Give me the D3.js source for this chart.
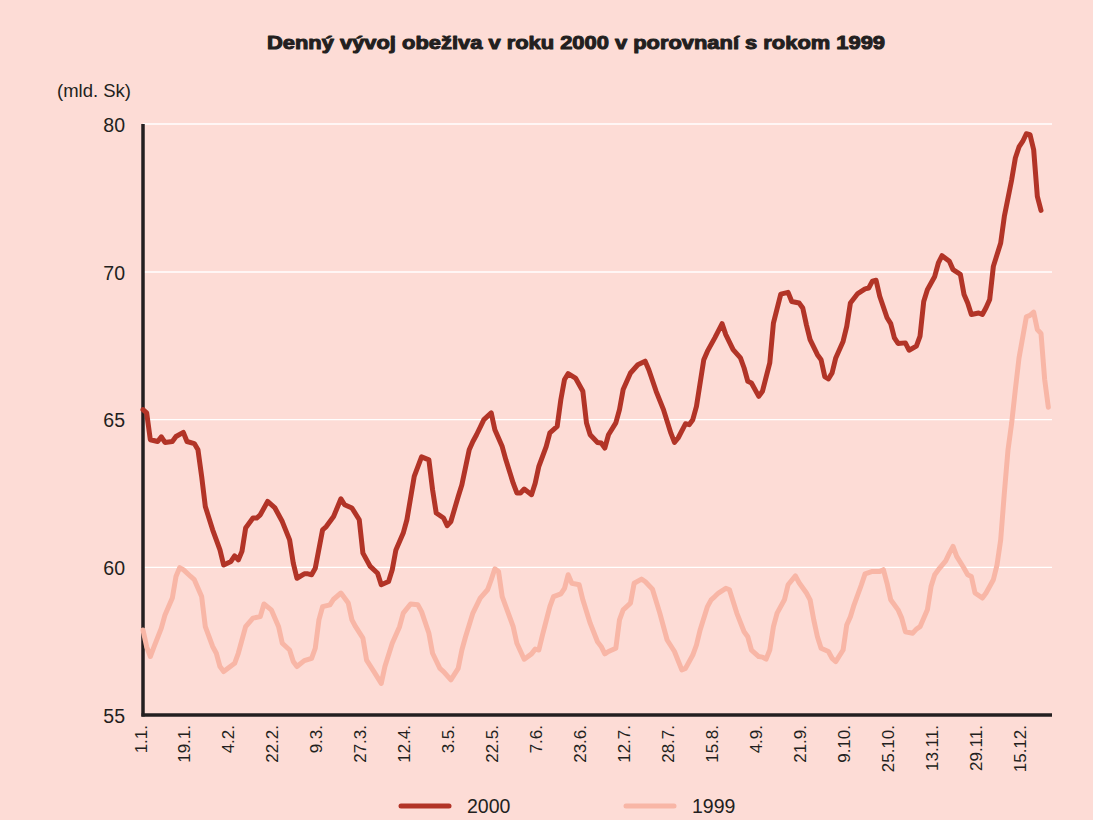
<!DOCTYPE html>
<html><head><meta charset="utf-8">
<script src="https://cdn.jsdelivr.net/npm/d3@7"></script>
<style>
html,body{margin:0;padding:0;background:#fddcd6;}
svg{display:block;}
</style></head>
<body>
<svg id="chart" width="1093" height="820"></svg>
<script>
const title = "Denný vývoj obeživa v roku 2000 v porovnaní s rokom 1999";
const unitLabel = "(mld. Sk)";
const yTickValues = [55, 60, 65, 70, 80];
const gridValues = [60, 65, 70, 80];
const tickDays = [0,12,24,36,48,60,72,84,96,108,120,132,144,156,168,180,192,204,216,228,240];
const tickLabels = ["1.1.","19.1.","4.2.","22.2.","9.3.","27.3.","12.4.","3.5.","22.5.","7.6.","23.6.","12.7.","28.7.","15.8.","4.9.","21.9.","9.10.","25.10.","13.11.","29.11.","15.12."];
const seriesNames = ["2000", "1999"];

const days2000 = [0,1,2,4,5,6,8,9,11,12,14,15,16,17,19,21,22,24,25,26,27,28,30,31,32,34,36,38,40,41,42,44,45,46,47,49,50,52,54,55,57,59,60,62,64,65,67,68,69,71,72,74,76,78,79,80,82,83,84,86,87,89,90,91,93,95,96,98,99,101,102,103,104,106,107,108,110,111,113,114,115,116,118,120,121,122,124,125,126,127,129,130,131,133,135,137,138,140,142,144,145,146,148,149,150,151,153,154,156,158,159,161,163,164,165,166,168,169,171,172,174,176,177,179,180,181,182,184,185,186,187,188,189,191,192,193,195,197,198,199,200,201,203,204,205,206,208,209,211,212,213,214,216,217,218,220,221,223,224,225,226,228,229,230,231,232,234,235,237,238,239,240,241,242,243,244,245];
const values2000 = [65.34,65.23,64.32,64.26,64.42,64.23,64.26,64.43,64.57,64.26,64.19,63.98,63.08,62.06,61.27,60.59,60.08,60.2,60.39,60.25,60.54,61.33,61.67,61.67,61.78,62.23,62.01,61.55,60.93,60.14,59.63,59.78,59.78,59.75,59.97,61.27,61.38,61.72,62.32,62.12,62.01,61.61,60.48,60.03,59.8,59.41,59.52,59.92,60.59,61.16,61.61,63.08,63.74,63.64,62.63,61.84,61.67,61.41,61.55,62.4,62.8,63.98,64.26,64.49,65.0,65.23,64.66,64.09,63.64,62.85,62.52,62.52,62.65,62.46,62.85,63.42,64.09,64.55,64.77,65.68,66.36,66.56,66.41,65.96,64.89,64.49,64.23,64.21,64.04,64.49,64.89,65.34,66.02,66.58,66.86,66.98,66.69,65.96,65.34,64.55,64.23,64.38,64.86,64.83,65.0,65.45,67.03,67.32,67.77,68.25,67.88,67.37,67.09,66.75,66.3,66.24,65.79,65.96,66.92,68.27,69.25,69.31,69.0,68.95,68.78,68.21,67.71,67.2,67.03,66.46,66.38,66.58,67.09,67.65,68.16,68.95,69.27,69.43,69.46,69.69,69.72,69.18,68.45,68.25,67.77,67.58,67.6,67.35,67.49,67.83,69.0,69.4,69.85,70.61,71.1,70.72,70.16,69.92,69.24,68.95,68.56,68.61,68.56,68.79,69.07,70.38,71.96,73.76,76.24,77.7,78.45,78.82,79.34,79.28,78.26,75.11,74.16];

const days1999 = [0,1,2,3,5,6,8,9,10,11,13,14,16,17,19,20,21,22,24,25,26,28,30,32,33,35,37,38,40,41,42,44,46,47,48,49,51,52,54,56,57,58,60,61,63,65,66,68,70,71,73,75,76,78,79,81,82,84,86,87,88,90,92,94,95,96,97,98,100,101,102,104,106,107,108,109,111,112,114,115,116,117,119,120,122,124,125,126,127,129,130,131,133,134,136,137,139,141,143,145,147,148,150,151,152,154,155,156,157,159,160,162,164,165,166,167,168,169,170,171,172,173,175,176,178,179,181,182,183,184,185,187,188,189,191,192,193,194,196,197,199,201,202,203,204,206,207,208,210,211,212,214,215,216,217,219,220,221,222,224,225,226,227,229,230,232,233,234,235,236,237,238,239,241,242,243,244,245,246,247];
const values1999 = [57.88,57.31,56.98,57.31,57.94,58.39,58.96,59.69,59.99,59.92,59.69,59.58,59.01,57.99,57.32,57.09,56.64,56.47,56.66,56.75,57.09,57.99,58.28,58.33,58.76,58.56,57.99,57.43,57.2,56.81,56.64,56.84,56.92,57.26,58.22,58.67,58.73,58.92,59.13,58.79,58.22,57.99,57.6,56.86,56.47,56.07,56.64,57.43,57.99,58.45,58.76,58.73,58.5,57.77,57.09,56.58,56.47,56.19,56.58,57.2,57.65,58.45,58.96,59.24,59.58,59.95,59.86,59.01,58.33,57.99,57.43,56.89,57.07,57.23,57.2,57.71,58.67,59.01,59.1,59.29,59.75,59.46,59.41,58.9,58.11,57.48,57.32,57.07,57.15,57.26,58.22,58.56,58.79,59.46,59.6,59.52,59.26,58.45,57.54,57.15,56.53,56.58,57.03,57.37,57.88,58.67,58.9,59.01,59.13,59.29,59.24,58.45,57.82,57.65,57.2,57.09,56.98,56.96,56.89,57.2,57.99,58.45,58.9,59.41,59.71,59.48,59.13,58.9,58.22,57.65,57.26,57.15,56.92,56.81,57.2,58.05,58.33,58.73,59.41,59.78,59.86,59.86,59.92,59.46,58.9,58.56,58.28,57.82,57.77,57.91,57.99,58.56,59.35,59.75,59.92,60.22,60.48,60.71,60.37,59.97,59.75,59.69,59.13,58.96,59.13,59.58,60.08,60.93,62.52,63.98,64.89,66.02,67.09,68.48,68.53,68.64,68.05,67.92,66.36,65.42];

const colors = {bg:"#fddcd6", s2000:"#b23427", s1999:"#f8b6a6", axis:"#231f20", text:"#231f20", grid:"#ffffff"};

const svg = d3.select("#chart");
svg.append("rect").attr("width",1093).attr("height",820).attr("fill",colors.bg);

const mLeft = 143, mRight = 1052, mTop = 124, mBottom = 715;
const x = d3.scaleLinear().domain([0, 248]).range([mLeft, mRight]);
const y = d3.scaleLinear().domain([55, 70, 80]).range([mBottom, 272, mTop]);

// title
svg.append("text").attr("x", 267).attr("y", 49).attr("text-anchor","start")
  .attr("textLength", 618).attr("lengthAdjust","spacingAndGlyphs")
  .attr("font-family","'Liberation Sans', Arial, sans-serif").attr("font-weight","bold")
  .attr("font-size",18.5).attr("fill",colors.text).attr("stroke",colors.text).attr("stroke-width",1)
  .attr("stroke-linejoin","round")
  .text(title);

svg.append("text").attr("x", 57).attr("y", 97)
  .attr("font-family","'Liberation Sans', Arial, sans-serif").attr("font-size",18.5)
  .attr("fill",colors.text).text(unitLabel);

// grid
svg.append("g").selectAll("line").data(gridValues).join("line")
  .attr("x1", mLeft).attr("x2", mRight).attr("y1", d=>y(d)).attr("y2", d=>y(d))
  .attr("stroke", colors.grid).attr("stroke-width", 1.3);

// y axis
const yAxis = svg.append("g").attr("transform",`translate(${mLeft},0)`)
  .call(d3.axisLeft(y).tickValues(yTickValues).tickSize(0).tickPadding(18).tickFormat(d3.format("d")));
yAxis.select(".domain").attr("stroke",colors.axis).attr("stroke-width",3.5).attr("d",`M0,${mTop}V${mBottom+1.5}`);
yAxis.selectAll("text").attr("font-family","'Liberation Sans', Arial, sans-serif").attr("font-size",19.5)
  .attr("fill",colors.text).attr("dy","0.36em");

// x axis
const xAxis = svg.append("g").attr("transform",`translate(0,${mBottom})`)
  .call(d3.axisBottom(x).tickValues(tickDays).tickSize(0).tickFormat((d,i)=>tickLabels[i]));
xAxis.select(".domain").attr("stroke",colors.axis).attr("stroke-width",3.5).attr("d",`M${mLeft-1.5},0H${mRight}`);
xAxis.selectAll("text").attr("font-family","'Liberation Sans', Arial, sans-serif").attr("font-size",17)
  .attr("fill",colors.text).attr("text-anchor","end")
  .attr("transform","rotate(-90)").attr("x",-10).attr("y",3).attr("dy","0");

// lines
const line = d3.line().x(d=>x(d[0])).y(d=>y(d[1]));
const s1999 = days1999.map((d,i)=>[d, values1999[i]]);
const s2000 = days2000.map((d,i)=>[d, values2000[i]]);
svg.append("path").attr("d", line(s1999)).attr("fill","none").attr("stroke",colors.s1999)
  .attr("stroke-width",5).attr("stroke-linejoin","round").attr("stroke-linecap","round");
svg.append("path").attr("d", line(s2000)).attr("fill","none").attr("stroke",colors.s2000)
  .attr("stroke-width",5).attr("stroke-linejoin","round").attr("stroke-linecap","round");

// legend
const legendItems = [{name:seriesNames[0], color:colors.s2000, x:401},{name:seriesNames[1], color:colors.s1999, x:626}];
const lg = svg.append("g");
legendItems.forEach(it=>{
  lg.append("line").attr("x1",it.x).attr("x2",it.x+48).attr("y1",806).attr("y2",806)
    .attr("stroke",it.color).attr("stroke-width",5).attr("stroke-linecap","round");
  lg.append("text").attr("x",it.x+66).attr("y",813).attr("font-family","'Liberation Sans', Arial, sans-serif")
    .attr("font-size",19.5).attr("fill",colors.text).text(it.name);
});
</script>
</body></html>
